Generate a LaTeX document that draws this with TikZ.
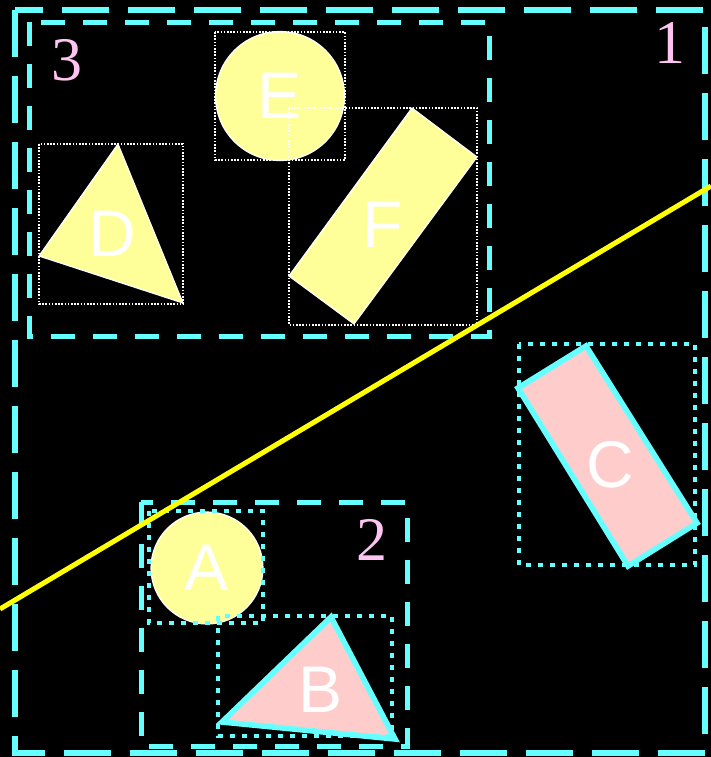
\documentclass[tikz,border=0pt]{standalone}
\usepackage{fontspec}
\setmainfont{Liberation Serif}
\setsansfont{Liberation Sans}
\usepackage{tikz}
\usetikzlibrary{positioning}
\definecolor{regioncyan}{HTML}{66FFFF}
\definecolor{shapeyellow}{HTML}{FFFF99}
\definecolor{shapepink}{HTML}{FFCCCC}
\definecolor{splityellow}{HTML}{FFFF00}
\definecolor{regionpink}{HTML}{FFC4F2}

\tikzset{
    outerbox/.style={draw=regioncyan, line width=3pt, dash pattern=on 23.5pt off 9.5pt},
    innerbox/.style={draw=regioncyan, line width=2.5pt, dash pattern=on 12pt off 9pt},
    hitbox/.style={draw=regioncyan, line width=2.4pt, dash pattern=on 2.5pt off 3.5pt},
    missbox/.style={draw=white, line width=0.8pt, dash pattern=on 0.8pt off 0.8pt},
    yellowshape/.style={fill=shapeyellow, draw=white, line width=0.6pt},
    pinkshape/.style={fill=shapepink, draw=regioncyan, line width=2.8pt, line join=miter},
    shapelabel/.style={text=white, font=\sffamily\fontsize{33}{33}\selectfont},
    regionlabel/.style={text=regionpink, font=\fontsize{31}{31}\selectfont},
}

\begin{document}
\begin{tikzpicture}[x=0.5pt, y=-0.5pt]
    % Background and frame
    \fill[black] (0,0) rectangle (711,757);
    \useasboundingbox (0,0) rectangle (711,757);

    % Shapes in region 3
    \filldraw[yellowshape] (118,144) -- (39,256) -- (183,303) -- cycle;
    \node[shapelabel] (labelD) at (112,234) {D};
    \node[yellowshape, circle, inner sep=0pt, minimum size=64.5pt, shapelabel] (shapeE) at (280,96) {E};
    \filldraw[yellowshape] (412,108) -- (477,157) -- (354,324) -- (289,276) -- cycle;
    \node[shapelabel] (labelF) at (383,225) {F};

    % Shapes in region 2
    \node[yellowshape, circle, inner sep=0pt, minimum size=56pt, shapelabel] (shapeA) at (207,568) {A};
    \filldraw[pinkshape] (331,617) -- (222,722) -- (395,739) -- cycle;
    \node[shapelabel] (labelB) at (321,690) {B};

    % Shape in region 1
    \filldraw[pinkshape] (586,346) -- (697,523) -- (628,566) -- (518,388) -- cycle;
    \node[shapelabel] (labelC) at (610,465) {C};

    % Bounding boxes of the shapes
    \draw[missbox] (39,144) rectangle (183,304);
    \draw[missbox] (215,32) rectangle (345,160);
    \draw[missbox] (289,108) rectangle (477,325);
    \draw[hitbox] (149,511) rectangle (263,623);
    \draw[hitbox] (218,616) rectangle (392,736);
    \draw[hitbox] (519,344) rectangle (695,565);

    % Regions
    \draw[outerbox] (15,10) rectangle (705,753);
    \draw[innerbox] (29,22) rectangle (489,336);
    \draw[innerbox] (141,502) rectangle (407,746);
    \node[regionlabel] (region1) at (670,43) {1};
    \node[regionlabel] (region3) at (67,60) {3};
    \node[regionlabel] (region2) at (372,540) {2};

    % Splitting line
    \coordinate (lineL) at (0,609);
    \coordinate (lineR) at (711,186);
    \draw[splityellow, line width=2.5pt] (lineL) -- (lineR);
\end{tikzpicture}
\end{document}
